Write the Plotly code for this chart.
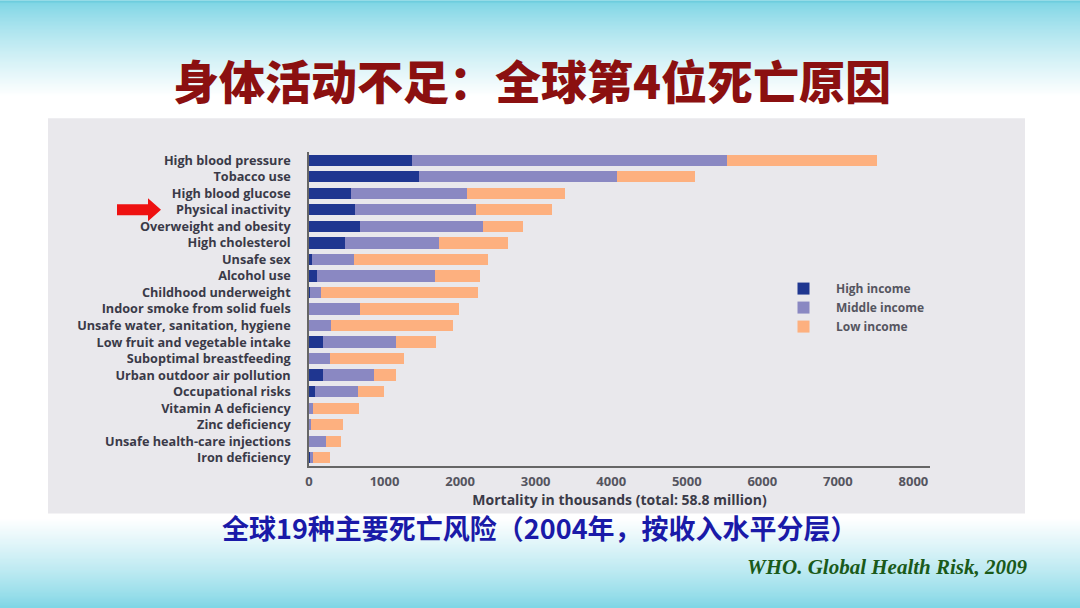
import plotly.graph_objects as go

# ---------------- data (thousands of deaths, 2004) ----------------
categories = [
    "High blood pressure", "Tobacco use", "High blood glucose", "Physical inactivity",
    "Overweight and obesity", "High cholesterol", "Unsafe sex", "Alcohol use",
    "Childhood underweight", "Indoor smoke from solid fuels",
    "Unsafe water, sanitation, hygiene", "Low fruit and vegetable intake",
    "Suboptimal breastfeeding", "Urban outdoor air pollution", "Occupational risks",
    "Vitamin A deficiency", "Zinc deficiency", "Unsafe health-care injections",
    "Iron deficiency",
]
high_income = [1366, 1455, 560, 607, 670, 476, 42, 105, 10, 5, 5, 188, 5, 188, 84, 5, 5, 5, 10]
middle_income = [4163, 2618, 1529, 1608, 1639, 1241, 560, 1565, 152, 665, 288, 959, 267, 671, 565, 47, 26, 220, 42]
low_income = [1989, 1037, 1304, 1000, 523, 917, 1764, 592, 2079, 1309, 1613, 539, 985, 288, 341, 613, 419, 199, 220]

series_names = ["High income", "Middle income", "Low income"]
series_colors = ["#1f3690", "#8a88c2", "#fdb07f"]
x_ticks = [0, 1000, 2000, 3000, 4000, 5000, 6000, 7000, 8000]

title_text = "身体活动不足：全球第4位死亡原因"
subtitle_text = "全球19种主要死亡风险（2004年，按收入水平分层）"
source_text = "WHO. Global Health Risk, 2009"
x_title = "Mortality in thousands (total: 58.8 million)"

# ---------------- geometry helpers ----------------
W, H = 1080, 608
PL, PR, PT, PB = 309, 930, 151.7, 466.3   # plot area in pixels


def px(x):
    return (x - PL) / (PR - PL)


def py(y):
    return (PB - y) / (PB - PT)


def lerp(c1, c2, t):
    return "rgb(%d,%d,%d)" % tuple(round(a + (b - a) * t) for a, b in zip(c1, c2))


fig = go.Figure()
for name, vals, col in zip(series_names, [high_income, middle_income, low_income], series_colors):
    fig.add_trace(go.Bar(
        y=categories, x=vals, name=name, orientation="h",
        marker=dict(color=col, line=dict(width=0)),
    ))

shapes = []
# background gradient bands
cyan = (122, 212, 228)
white = (255, 255, 255)
step = 2
for y0 in range(0, 100, step):
    t = min(1.0, y0 / 95.0)
    shapes.append(dict(type="rect", xref="paper", yref="paper", layer="below",
                       x0=px(0), x1=px(W), y0=py(y0), y1=py(y0 + step + 0.5),
                       fillcolor=lerp(cyan, white, t ** 0.8), line=dict(width=0)))
for y0 in range(514, H, step):
    t = min(1.0, (H - y0) / 90.0)
    shapes.append(dict(type="rect", xref="paper", yref="paper", layer="below",
                       x0=px(0), x1=px(W), y0=py(y0), y1=py(y0 + step + 0.5),
                       fillcolor=lerp(cyan, white, t ** 0.8), line=dict(width=0)))
shapes.append(dict(type="rect", xref="paper", yref="paper", layer="below",
                   x0=px(0), x1=px(W), y0=py(0), y1=py(2),
                   fillcolor="rgb(110,205,222)", line=dict(width=0)))
# grey panel behind the chart
shapes.append(dict(type="rect", xref="paper", yref="paper", layer="below",
                   x0=px(48), x1=px(1025), y0=py(514), y1=py(118),
                   fillcolor="#e9e8ec", line=dict(width=0)))
# red arrow
ax0, ax1, ax2 = 117, 148, 161
ay = 209.5
path = "M {a},{b} L {c},{b} L {c},{d} L {e},{f} L {c},{g} L {c},{h} L {a},{h} Z".format(
    a=px(ax0), c=px(ax1), e=px(ax2),
    b=py(ay - 5.5), h=py(ay + 5.5), d=py(ay - 11.5), g=py(ay + 11.5), f=py(ay))
shapes.append(dict(type="path", xref="paper", yref="paper", path=path,
                   fillcolor="#ee1111", line=dict(width=0)))

annotations = [
    dict(text=title_text, xref="paper", yref="paper", x=px(532), y=py(79),
         xanchor="center", yanchor="middle", showarrow=False,
         font=dict(family="Noto Sans CJK SC", size=46, color="#8b1010", weight=900)),
    dict(text=subtitle_text, xref="paper", yref="paper", x=px(540), y=py(528),
         xanchor="center", yanchor="middle", showarrow=False,
         font=dict(family="Noto Sans CJK SC", size=27, color="#1a1aa8", weight=700)),
    dict(text="<i><b>" + source_text + "</b></i>", xref="paper", yref="paper",
         x=px(1030), y=py(567), xanchor="right", yanchor="middle", showarrow=False,
         font=dict(family="Liberation Serif", size=21, color="#1a5a1a")),
]

fig.update_layout(
    width=W, height=H,
    margin=dict(l=PL, r=W - PR, t=PT, b=H - PB, pad=0),
    barmode="stack", bargap=0.32,
    paper_bgcolor="white", plot_bgcolor="rgba(0,0,0,0)",
    shapes=shapes, annotations=annotations,
    showlegend=True,
    legend=dict(x=px(771), y=py(274), xanchor="left", yanchor="top",
                bgcolor="rgba(0,0,0,0)", traceorder="normal",
                font=dict(family="Open Sans", size=12, color="#555560", weight=700),
                itemwidth=55, tracegroupgap=0),
    font=dict(family="Open Sans"),
)
fig.update_yaxes(
    autorange="reversed", showgrid=False, zeroline=False,
    showline=True, linecolor="#666", linewidth=1.5,
    ticks="", ticklabelstandoff=14,
    tickfont=dict(family="Open Sans", size=12.7, color="#3a3a48", weight=700),
)
fig.update_xaxes(
    range=[0, 8220], tickvals=x_ticks, ticktext=[str(v) for v in x_ticks],
    showgrid=False, zeroline=False,
    showline=True, linecolor="#666", linewidth=1.5, ticks="", ticklabelstandoff=3,
    tickfont=dict(family="Open Sans", size=13, color="#55555f", weight=700),
    title=dict(text=x_title, standoff=1,
               font=dict(family="Open Sans", size=14, color="#3a3a48", weight=700)),
)

fig.write_html("out.html")
